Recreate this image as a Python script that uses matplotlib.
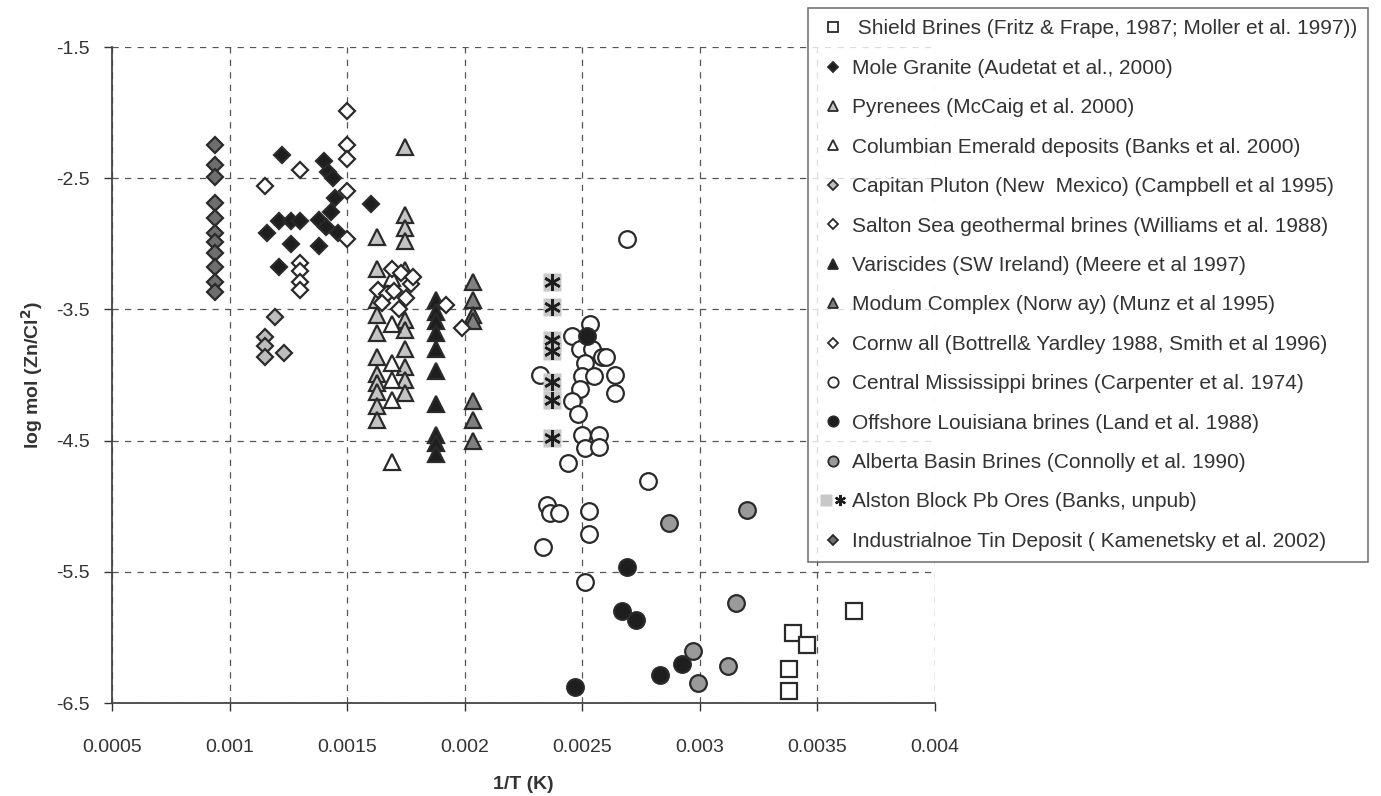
import matplotlib
matplotlib.use("Agg")
import matplotlib.pyplot as plt
from matplotlib.lines import Line2D
from matplotlib.legend_handler import HandlerTuple

plt.rcParams['font.family'] = ['Liberation Sans', 'DejaVu Sans']

# ---- data ----
shield_x = [0.003657, 0.003397, 0.003454, 0.00338, 0.00338]
shield_y = [-5.80, -5.97, -6.06, -6.24, -6.41]

mole_x = [0.001222, 0.0014, 0.00142, 0.00144, 0.00145, 0.00143, 0.00138, 0.00141,
          0.00116, 0.00121, 0.00126, 0.0013, 0.00126, 0.00138, 0.00121, 0.00146, 0.0016]
mole_y = [-2.32, -2.37, -2.45, -2.50, -2.65, -2.76, -2.82, -2.87,
          -2.92, -2.83, -2.83, -2.83, -3.00, -3.02, -3.18, -2.92, -2.70]

pyr_x = [0.001746, 0.001746, 0.001746, 0.001746, 0.001625, 0.001625, 0.001625, 0.001625,
         0.001625, 0.001625, 0.001625, 0.001625, 0.001625, 0.001625, 0.001625,
         0.001746, 0.001746, 0.001746, 0.001746, 0.001746, 0.001746, 0.001746]
pyr_y = [-2.26, -2.78, -2.88, -2.98, -2.95, -3.19, -3.43, -3.54,
         -3.68, -3.86, -3.99, -4.06, -4.13, -4.24, -4.34,
         -3.20, -3.58, -3.66, -3.80, -3.94, -4.04, -4.14]

colum_x = [0.00169, 0.00169, 0.00169, 0.00169, 0.00169, 0.00169]
colum_y = [-3.26, -3.61, -3.91, -4.04, -4.19, -4.66]

capitan_x = [0.001193, 0.00115, 0.00115, 0.00115, 0.00123]
capitan_y = [-3.556, -3.71, -3.78, -3.86, -3.83]

salton_x = [0.0015, 0.0015, 0.0015, 0.0015, 0.0015, 0.0013, 0.00115,
            0.0013, 0.0013, 0.0013, 0.0013]
salton_y = [-1.99, -2.25, -2.35, -2.60, -2.96, -2.44, -2.56,
            -3.15, -3.21, -3.29, -3.35]

varis_x = [0.00188] * 10
varis_y = [-3.43, -3.52, -3.59, -3.68, -3.80, -3.97, -4.22, -4.46, -4.52, -4.60]

modum_x = [0.002034] * 7
modum_y = [-3.29, -3.43, -3.54, -3.59, -4.20, -4.34, -4.50]

cornwall_x = [0.00169, 0.00173, 0.00177, 0.00163, 0.00167, 0.0017, 0.00175, 0.00165,
              0.00172, 0.00178, 0.00192, 0.00199]
cornwall_y = [-3.19, -3.22, -3.31, -3.35, -3.38, -3.36, -3.41, -3.45,
              -3.50, -3.25, -3.47, -3.64]

miss_x = [0.002532, 0.002455, 0.00249, 0.00254, 0.002582, 0.0026, 0.00251, 0.00232,
          0.0025, 0.00255, 0.00264, 0.00264, 0.00249, 0.002455, 0.00248, 0.0025,
          0.00257, 0.00251, 0.00257, 0.00244, 0.00278, 0.00235, 0.002362, 0.0024,
          0.00253, 0.00253, 0.002334, 0.00251, 0.00269]
miss_y = [-3.61, -3.70, -3.80, -3.80, -3.86, -3.86, -3.91, -4.00,
          -4.01, -4.01, -4.00, -4.14, -4.11, -4.20, -4.30, -4.46,
          -4.46, -4.56, -4.55, -4.67, -4.81, -4.99, -5.05, -5.05,
          -5.04, -5.21, -5.31, -5.58, -2.96]

louis_x = [0.00252, 0.002691, 0.002667, 0.00273, 0.002925, 0.00283, 0.002469]
louis_y = [-3.70, -5.46, -5.80, -5.87, -6.20, -6.29, -6.38]

alberta_x = [0.0032, 0.00287, 0.003153, 0.002972, 0.00312, 0.00299]
alberta_y = [-5.03, -5.13, -5.74, -6.10, -6.22, -6.35]

alston_x = [0.002372] * 7
alston_y = [-3.29, -3.48, -3.73, -3.82, -4.05, -4.19, -4.48]

indus_x = [0.000938] * 11
indus_y = [-2.25, -2.40, -2.49, -2.69, -2.80, -2.92, -2.99, -3.07, -3.18, -3.29, -3.37]

x_ticks = [0.0005, 0.001, 0.0015, 0.002, 0.0025, 0.003, 0.0035, 0.004]
x_labels = ['0.0005', '0.001', '0.0015', '0.002', '0.0025', '0.003', '0.0035', '0.004']
y_ticks = [-1.5, -2.5, -3.5, -4.5, -5.5, -6.5]
y_labels = ['-1.5', '-2.5', '-3.5', '-4.5', '-5.5', '-6.5']

names = [
    ' Shield Brines (Fritz & Frape, 1987; Moller et al. 1997))',
    'Mole Granite (Audetat et al., 2000)',
    'Pyrenees (McCaig et al. 2000)',
    'Columbian Emerald deposits (Banks et al. 2000)',
    'Capitan Pluton (New  Mexico) (Campbell et al 1995)',
    'Salton Sea geothermal brines (Williams et al. 1988)',
    'Variscides (SW Ireland) (Meere et al 1997)',
    'Modum Complex (Norw ay) (Munz et al 1995)',
    'Cornw all (Bottrell& Yardley 1988, Smith et al 1996)',
    'Central Mississippi brines (Carpenter et al. 1974)',
    'Offshore Louisiana brines (Land et al. 1988)',
    'Alberta Basin Brines (Connolly et al. 1990)',
    'Alston Block Pb Ores (Banks, unpub)',
    'Industrialnoe Tin Deposit ( Kamenetsky et al. 2002)',
]

edge = '#2a2a2a'
text_c = '#333333'

fig = plt.figure(figsize=(13.81, 7.96), dpi=100)
ax = fig.add_axes([112 / 1381, 1 - 703 / 796, (935 - 112) / 1381, (703 - 47) / 796])

# (x, y, marker, size, face) per series, in legend order
series = [
    (shield_x, shield_y, 's', 11, 'white'),
    (mole_x, mole_y, 'D', 8, '#1e1e1e'),
    (pyr_x, pyr_y, '^', 11, '#c4c4c4'),
    (colum_x, colum_y, '^', 11, 'white'),
    (capitan_x, capitan_y, 'D', 8, '#bdbdbd'),
    (salton_x, salton_y, 'D', 8, 'white'),
    (varis_x, varis_y, '^', 11, '#1e1e1e'),
    (modum_x, modum_y, '^', 11, '#808080'),
    (cornwall_x, cornwall_y, 'D', 8, 'white'),
    (miss_x, miss_y, 'o', 12, 'white'),
    (louis_x, louis_y, 'o', 12, '#1e1e1e'),
    (alberta_x, alberta_y, 'o', 12, '#9a9a9a'),
    None,
    (indus_x, indus_y, 'D', 8, '#6e6e6e'),
]

handles = []
for i, s in enumerate(series):
    if s is None:
        ax.plot(alston_x, alston_y, 's', ms=13, mfc='#c8c8c8', mec='none', zorder=3)
        ax.plot(alston_x, alston_y, marker=(6, 2, 0), ls='none', ms=12,
                mec='#1e1e1e', mew=1.8, zorder=4)
        h1 = Line2D([], [], marker='s', ls='none', ms=9, mfc='#c8c8c8', mec='none')
        h2 = Line2D([], [], marker=(6, 2, 0), ls='none', ms=8, mec='#1e1e1e', mew=1.6)
        handles.append((h1, h2))
        continue
    xs, ys, m, ms, fc = s
    ax.plot(xs, ys, m, ms=ms, mfc=fc, mec=edge, mew=1.6, zorder=3)
    handles.append(Line2D([], [], marker=m, ls='none', ms=ms * 0.62,
                          mfc=fc, mec=edge, mew=1.3))

ax.set_xlim(0.0005, 0.004)
ax.set_ylim(-6.5, -1.5)
ax.set_xticks(x_ticks)
ax.set_xticklabels(x_labels)
ax.set_yticks(y_ticks)
ax.set_yticklabels(y_labels)
ax.tick_params(labelsize=14, colors=text_c, length=6, width=1, pad=10, direction='out')
ax.tick_params(axis='x', pad=20)
ax.grid(True, ls=(0, (5, 5)), color='#555555', lw=0.9)
for sp in ['top', 'right']:
    ax.spines[sp].set_visible(False)
for sp in ['left', 'bottom']:
    ax.spines[sp].set_color('#444444')
    ax.spines[sp].set_linewidth(1.3)

ax.set_xlabel('1/T (K)', fontsize=14, fontweight='bold', color=text_c, labelpad=14)
ax.set_ylabel('log mol (Zn/Cl$^\\mathbf{2}$)', fontsize=14, fontweight='bold',
              color=text_c, labelpad=8)

leg = fig.legend(handles, names, loc='upper left', bbox_to_anchor=(808 / 1381, 1 - 8 / 796),
                 fontsize=15, frameon=True, fancybox=False, labelspacing=0.98,
                 handletextpad=0.25, handlelength=1.3, borderpad=0.55, borderaxespad=0,
                 handler_map={tuple: HandlerTuple(ndivide=None, pad=0)})
leg.get_frame().set_edgecolor('#555555')
leg.get_frame().set_linewidth(1.2)
for t in leg.get_texts():
    t.set_color(text_c)

fig.savefig('out.png', dpi=100)
